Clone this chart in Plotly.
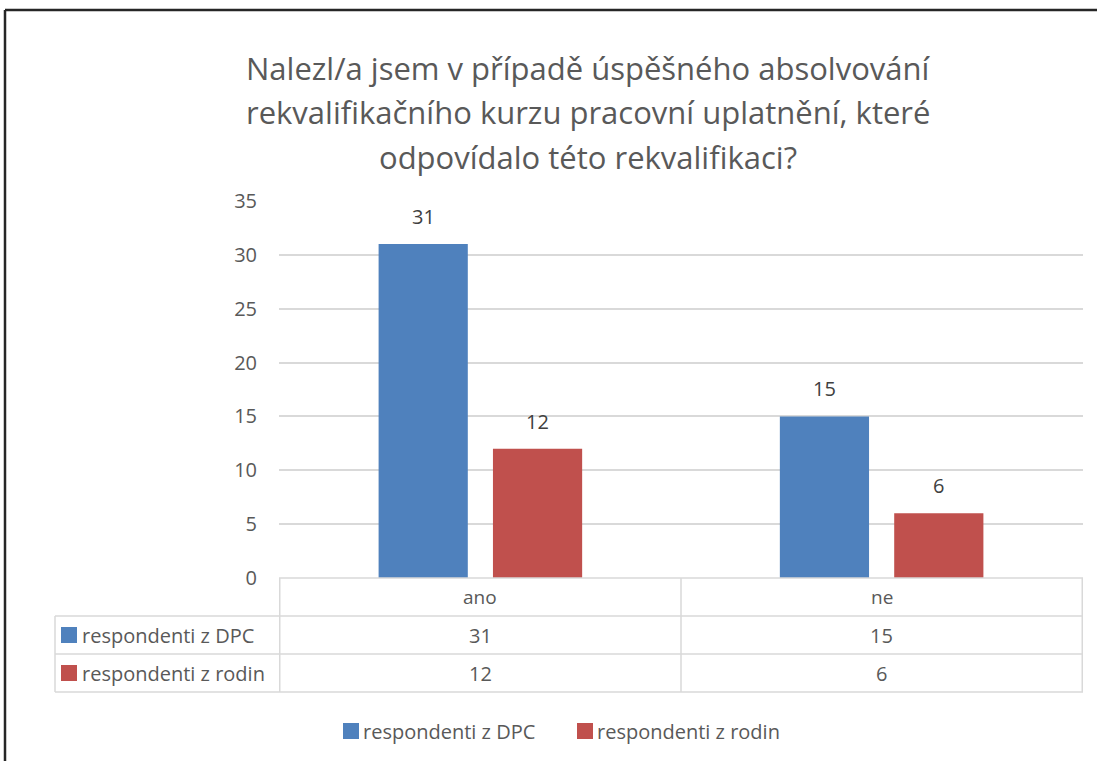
import plotly.graph_objects as go

W, H = 1097, 761

title_lines = [
    "Nalezl/a jsem v případě úspěšného absolvování",
    "rekvalifikačního kurzu pracovní uplatnění, které",
    "odpovídalo této rekvalifikaci?",
]
categories = ["ano", "ne"]
series_names = ["respondenti z DPC", "respondenti z rodin"]
dpc_values = [31, 15]
rodin_values = [12, 6]
series_values = [dpc_values, rodin_values]
colors = ["#4F81BD", "#C0504D"]
y_ticks = [0, 5, 10, 15, 20, 25, 30, 35]

FONT = "Open Sans"
GRID = "#d9d9d9"
TXT = "#595959"


def px(x):
    return x / W


def py(y):
    return 1 - y / H


fig = go.Figure()
for name, vals, col in zip(series_names, series_values, colors):
    fig.add_trace(go.Bar(
        x=categories, y=vals, name=name, showlegend=False,
        marker=dict(color=col, line=dict(width=0)),
    ))

shapes = []
annotations = []


def label(x, y, text, size, xref="paper", xanchor="center", color=TXT, **kw):
    annotations.append(dict(
        x=x, y=y, xref=xref, yref="paper", text=text, showarrow=False,
        xanchor=xanchor, yanchor="middle",
        font=dict(family=FONT, size=size, color=color), **kw))


def key(x0, yc, col):
    shapes.append(dict(type="rect", xref="paper", yref="paper",
                       x0=px(x0), x1=px(x0 + 16), y0=py(yc - 8), y1=py(yc + 8),
                       fillcolor=col, line=dict(width=0)))


# title, one annotation per line so the spacing matches
for i, line in enumerate(title_lines):
    label(px(588), py(68 + i * 44.5), line, 31)

# data labels above bars
for k, vals in enumerate(series_values):
    for cat, v in zip(categories, vals):
        annotations.append(dict(
            x=cat, y=v, xref="x", yref="y", text=str(v), showarrow=False,
            xshift=-57 if k == 0 else 57, yshift=12, yanchor="bottom",
            font=dict(family=FONT, size=20, color="#404040"),
        ))

# data table under the axis
row_top, row_h = 578, 38
rows_y = [row_top + row_h * (i + 1) for i in range(3)]
for y in [row_top] + rows_y:
    x0 = 279 if y == row_top else 55
    shapes.append(dict(type="line", xref="paper", yref="paper",
                       x0=px(x0), x1=px(1083), y0=py(y), y1=py(y),
                       line=dict(color=GRID, width=1.5)))
shapes.append(dict(type="line", xref="paper", yref="paper",
                   x0=px(55), x1=px(55), y0=py(rows_y[0]), y1=py(rows_y[-1]),
                   line=dict(color=GRID, width=1.5)))
for xv in [-0.5, 0.5, 1.5]:
    shapes.append(dict(type="line", xref="x", yref="paper",
                       x0=xv, x1=xv, y0=py(row_top), y1=py(rows_y[-1]),
                       line=dict(color=GRID, width=1.5)))

for cat in categories:
    label(cat, py(row_top + row_h / 2), cat, 19, xref="x")

for r, (name, vals, col) in enumerate(zip(series_names, series_values, colors)):
    yc = row_top + row_h * (r + 1) + row_h / 2
    key(61, yc, col)
    label(px(80), py(yc), name, 20, xanchor="left")
    for cat, v in zip(categories, vals):
        label(cat, py(yc), str(v), 20, xref="x")

# legend under the table
legend_x = [343, 577]
for name, col, lx in zip(series_names, colors, legend_x):
    key(lx, 731, col)
    label(px(lx + 18), py(731), name, 20, xanchor="left")

# outer frame (left and top edges)
shapes.append(dict(type="line", xref="paper", yref="paper",
                   x0=px(5), x1=px(5), y0=py(10), y1=0,
                   line=dict(color="#262626", width=2.5)))
shapes.append(dict(type="line", xref="paper", yref="paper",
                   x0=px(5), x1=1, y0=py(10), y1=py(10),
                   line=dict(color="#262626", width=2.5)))

fig.update_layout(
    width=W, height=H,
    margin=dict(l=0, r=0, t=0, b=0, autoexpand=False),
    paper_bgcolor="white", plot_bgcolor="white",
    barmode="group", bargap=0.43, bargroupgap=0.22,
    font=dict(family=FONT, color=TXT),
    showlegend=False,
    xaxis=dict(domain=[px(279), px(1083)], showticklabels=False,
               showgrid=False, zeroline=False, showline=False, ticks="",
               automargin=False),
    yaxis=dict(domain=[py(578), py(201)], range=[0, 35], tickvals=y_ticks,
               showgrid=True, gridcolor=GRID, gridwidth=1.5, zeroline=False,
               showline=False, ticks="", ticklabelstandoff=21, automargin=False,
               tickfont=dict(family=FONT, size=20, color=TXT)),
    shapes=shapes,
    annotations=annotations,
)

fig.write_html("out.html", config={"displayModeBar": False},
               post_script="document.body.style.margin='0';document.body.style.overflow='hidden';")
